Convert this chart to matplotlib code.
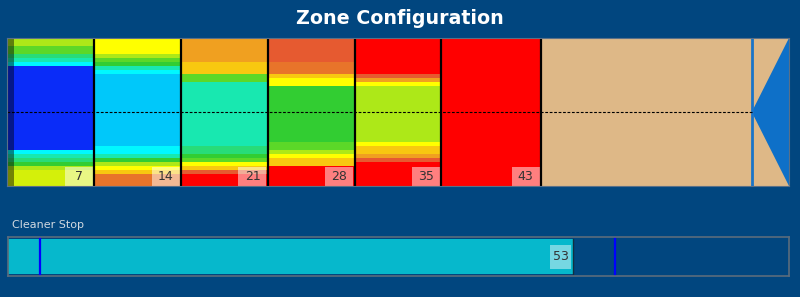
import numpy as np
import matplotlib
matplotlib.use("Agg")
import matplotlib.pyplot as plt
import matplotlib.patches as mpatches
from matplotlib.colors import ListedColormap, BoundaryNorm

# colour levels, cold -> hot
level_colors = ['#0A2CF8', '#00C8FA', '#00F8FF', '#18E8B0', '#28DC78', '#32CD32',
                '#5CD828', '#ADE818', '#D4F00A', '#FFFF00', '#F8C810', '#F0A020',
                '#E8742A', '#E65A30', '#FF0000']

# zone end positions (labels) and zone profiles top->bottom as (level, rows)
zone_ends = [7, 14, 21, 28, 35, 43]
zone1 = [(7, 2), (6, 2), (4, 1), (3, 1), (2, 1), (0, 21), (2, 1), (3, 1), (4, 1), (5, 1), (7, 1), (8, 4)]
zone2 = [(9, 4), (7, 1), (6, 1), (5, 1), (3, 1), (2, 1), (1, 18), (2, 2), (3, 1), (5, 1), (7, 1), (9, 1), (10, 1), (12, 3)]
zone3 = [(11, 6), (10, 3), (6, 2), (3, 16), (4, 2), (5, 1), (6, 1), (9, 1), (10, 1), (13, 1), (14, 3)]
zone4 = [(13, 6), (12, 3), (10, 1), (9, 2), (5, 14), (6, 2), (7, 1), (9, 1), (10, 2), (14, 5)]
zone5 = [(14, 9), (13, 1), (11, 1), (9, 1), (7, 14), (9, 1), (10, 2), (11, 1), (13, 1), (14, 6)]
zone6 = [(14, 37)]
zones = [zone1, zone2, zone3, zone4, zone5, zone6]

kiln_end = 60
total_len = 63

cleaner_value = 53
cleaner_max = 73.3
cleaner_marks = [3, 57]

bg = '#01467F'
fig = plt.figure(figsize=(8, 2.97), dpi=100, facecolor=bg)

def px_axes(x, y, w, h):
    return fig.add_axes([x / 800, 1 - (y + h) / 297, w / 800, h / 297])

# ---- top panel
ax = px_axes(7, 38, 782, 148)
profiles = np.array([np.repeat([b[0] for b in z], [b[1] for b in z]) for z in zones]).T
nrows = profiles.shape[0]
cmap = ListedColormap(level_colors)
norm = BoundaryNorm(np.arange(len(level_colors) + 1) - 0.5, cmap.N)
xedges = [0] + zone_ends
ax.pcolormesh(xedges, np.arange(nrows + 1), profiles, cmap=cmap, norm=norm)
ax.add_patch(mpatches.Rectangle((0, 0), 0.6, nrows, color='black', alpha=0.45, lw=0))
ax.add_patch(mpatches.Rectangle((zone_ends[-1], 0), total_len - zone_ends[-1], nrows,
                                color='#DEB887', lw=0))
ax.fill([kiln_end, total_len, total_len], [nrows / 2, 0, nrows], color='#0E70C8', lw=0)
ax.axvline(kiln_end, color='#1A74C8', lw=2)
ax.plot([0, kiln_end], [nrows / 2, nrows / 2], color='black', lw=0.8, ls=(0, (2.5, 1.5)))
for e in zone_ends:
    ax.axvline(e, color='black', lw=1.6)
    ax.add_patch(mpatches.Rectangle((e - 2.35, nrows - 4.8), 2.25, 4.8,
                                    color='white', alpha=0.5, lw=0))
    ax.text(e - 1.22, nrows - 2.3, str(e), ha='center', va='center',
            fontsize=9, color='#333333')
ax.set_xlim(0, total_len)
ax.set_ylim(nrows, 0)
ax.set_xticks([])
ax.set_yticks([])
for s in ax.spines.values():
    s.set_color('#5A7088')
    s.set_linewidth(0.8)

fig.text(0.5, 1 - 19 / 297, 'Zone Configuration', ha='center', va='center',
         color='white', fontsize=13.7, fontweight='bold')

# ---- cleaner stop bar
fig.text(12 / 800, 1 - 225 / 297, 'Cleaner Stop', ha='left', va='center',
         color='#D0D8E0', fontsize=8)
ax2 = px_axes(8, 237, 781, 39)
ax2.set_facecolor(bg)
ax2.barh(0.5, cleaner_value, height=0.92, left=0, color='#06B8CC', edgecolor='none')
ax2.plot([cleaner_value, cleaner_value], [0.04, 0.96], color='#123040', lw=1)
ax2.add_patch(mpatches.Rectangle((cleaner_value - 2.1, 0.18), 1.95, 0.62,
                                 color='white', alpha=0.45, lw=0))
ax2.text(cleaner_value - 1.12, 0.5, str(cleaner_value), ha='center', va='center',
         fontsize=9, color='#333333')
for m in cleaner_marks:
    ax2.axvline(m, color='#0000FF', lw=1.6)
ax2.set_xlim(0, cleaner_max)
ax2.set_ylim(0, 1)
ax2.set_xticks([])
ax2.set_yticks([])
for s in ax2.spines.values():
    s.set_color('#5A6C7C')
    s.set_linewidth(1.2)

fig.savefig('out.png', dpi=100, facecolor=bg)
